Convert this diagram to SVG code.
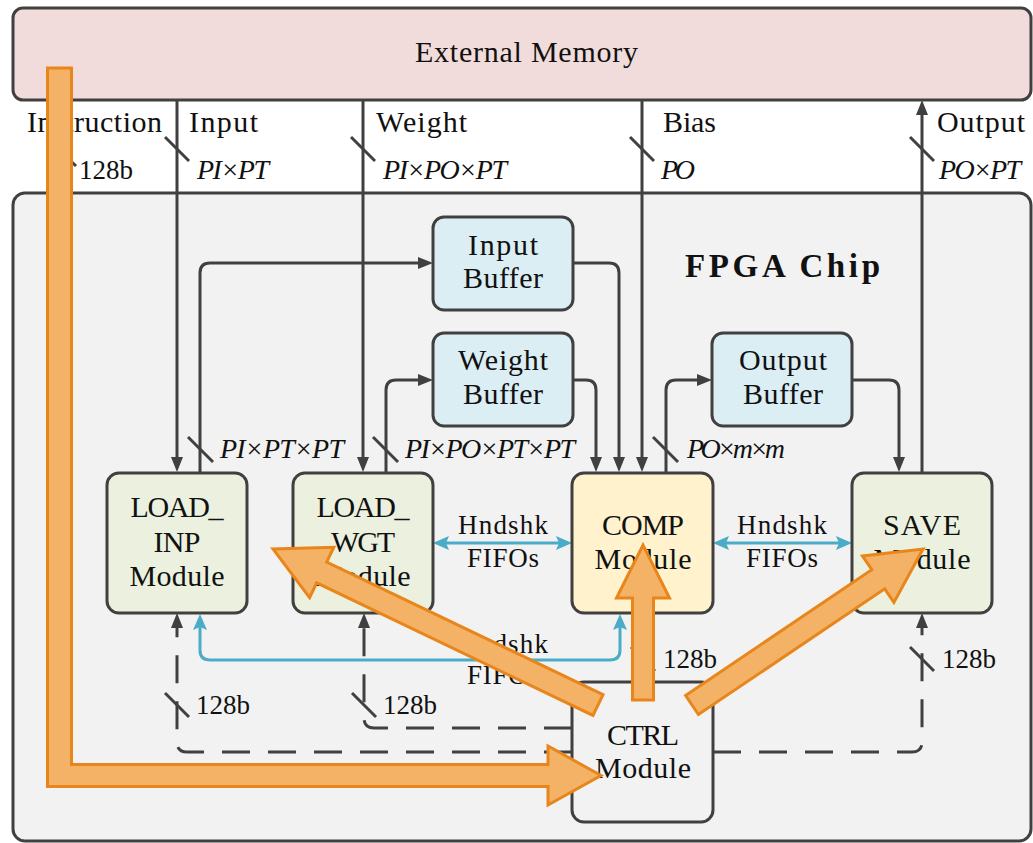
<svg xmlns="http://www.w3.org/2000/svg" width="1033" height="843" viewBox="0 0 1033 843">
  <style>
    .box { stroke: #404040; stroke-width: 3; }
    .mem { fill: #f2dcdb; }
    .chip { fill: #f2f2f2; }
    .buf { fill: #dbeef4; }
    .mod { fill: #ebf1de; }
    .comp { fill: #fff2cc; }
    .ctrl { fill: #f2f2f2; }
    text { font-family: "Liberation Serif", "DejaVu Serif", serif; fill: #111; }
    .lbl { font-size: 30px; }
    .nm { font-size: 30px; text-anchor: middle; }
    .hs { font-size: 27px; text-anchor: middle; }
    .mth { font-size: 28px; font-style: italic; }
    .bits { font-size: 27px; }
    .title { font-size: 33px; font-weight: bold; }
    .wire { fill: none; stroke: #404040; stroke-width: 3; }
    .dash { stroke-dasharray: 28 18; }
    .fifo { fill: none; stroke: #4aacc6; stroke-width: 3; }
    .tick { stroke: #404040; stroke-width: 3; }
    .flow { fill: #f3b266; stroke: #e8861c; stroke-width: 3; stroke-linejoin: miter; }
  </style>
  <defs>
    <marker id="head" viewBox="0 0 15 12" markerWidth="15" markerHeight="12" refX="9" refY="6" orient="auto" markerUnits="userSpaceOnUse">
      <path d="M0,0 L15,6 L0,12 z" fill="#404040"/>
    </marker>
    <marker id="headBlue" viewBox="0 0 16 14" markerWidth="16" markerHeight="14" refX="10" refY="7" orient="auto-start-reverse" markerUnits="userSpaceOnUse">
      <path d="M0,0 L16,7 L0,14 L3,7 z" fill="#4aacc6"/>
    </marker>
  </defs>

  <!-- FPGA chip outline -->
  <g id="fpga-chip">
    <rect class="box chip" x="13" y="193" width="1018" height="648" rx="12"/>
    <text class="title" x="685" y="277" textLength="195" lengthAdjust="spacing">FPGA Chip</text>
  </g>

  <!-- off-chip memory -->
  <g id="external-memory">
    <rect class="box mem" x="13" y="8" width="1018" height="92" rx="10"/>
    <text class="lbl" x="415" y="62" textLength="223" lengthAdjust="spacing">External Memory</text>
  </g>

  <!-- bus labels between memory and chip -->
  <g id="bus-labels">
    <text class="lbl" x="27" y="132" textLength="135" lengthAdjust="spacing">Instruction</text>
    <text class="lbl" x="189" y="132" textLength="69" lengthAdjust="spacing">Input</text>
    <text class="lbl" x="376" y="132" textLength="91" lengthAdjust="spacing">Weight</text>
    <text class="lbl" x="663" y="132" textLength="53" lengthAdjust="spacing">Bias</text>
    <text class="lbl" x="937" y="132" textLength="88" lengthAdjust="spacing">Output</text>
    <text class="bits" x="79" y="179" textLength="54" lengthAdjust="spacing">128b</text>
    <text class="mth" x="197" y="179" textLength="72" lengthAdjust="spacing">PI×PT</text>
    <text class="mth" x="383" y="179" textLength="124" lengthAdjust="spacing">PI×PO×PT</text>
    <text class="mth" x="661" y="179" textLength="34" lengthAdjust="spacing">PO</text>
    <text class="mth" x="939" y="179" textLength="82" lengthAdjust="spacing">PO×PT</text>
    <text class="mth" x="220" y="458" textLength="124" lengthAdjust="spacing">PI×PT×PT</text>
    <text class="mth" x="405" y="458" textLength="170" lengthAdjust="spacing">PI×PO×PT×PT</text>
    <text class="mth" x="687" y="458" textLength="98" lengthAdjust="spacing">PO×m×m</text>
    <text class="bits" x="196" y="714" textLength="54" lengthAdjust="spacing">128b</text>
    <text class="bits" x="383" y="714" textLength="54" lengthAdjust="spacing">128b</text>
    <text class="bits" x="663" y="668" textLength="54" lengthAdjust="spacing">128b</text>
    <text class="bits" x="942" y="668" textLength="54" lengthAdjust="spacing">128b</text>
  </g>

  <g id="connectors">
    <!-- data buses -->
    <path class="wire" d="M60,100 V775 H566" marker-end="url(#head)"/>
    <path class="wire" d="M177,100 V466" marker-end="url(#head)"/>
    <path class="wire" d="M363,100 V466" marker-end="url(#head)"/>
    <path class="wire" d="M642,100 V466" marker-end="url(#head)"/>
    <path class="wire" d="M922,473 V106" marker-end="url(#head)"/>
    <path class="wire" d="M200,473 V273 Q200,263 210,263 H427" marker-end="url(#head)"/>
    <path class="wire" d="M573,263 H609 Q619,263 619,273 V466" marker-end="url(#head)"/>
    <path class="wire" d="M386,473 V390 Q386,380 396,380 H427" marker-end="url(#head)"/>
    <path class="wire" d="M573,380 H586 Q596,380 596,390 V466" marker-end="url(#head)"/>
    <path class="wire" d="M666,473 V390 Q666,380 676,380 H706" marker-end="url(#head)"/>
    <path class="wire" d="M852,380 H889 Q899,380 899,390 V466" marker-end="url(#head)"/>
    <!-- instruction paths from the controller -->
    <path class="wire dash" d="M572,752 H187 Q177,752 177,742 V619" marker-end="url(#head)"/>
    <path class="wire dash" d="M572,728 H374 Q364,728 364,718 V619" marker-end="url(#head)"/>
    <path class="wire dash" d="M713,752 H912 Q922,752 922,742 V619" marker-end="url(#head)"/>
    <path class="wire dash" d="M643,682 V619" marker-end="url(#head)"/>
    <!-- handshake FIFOs -->
    <path class="fifo" d="M439,543 H566" marker-start="url(#headBlue)" marker-end="url(#headBlue)"/>
    <path class="fifo" d="M719,543 H846" marker-start="url(#headBlue)" marker-end="url(#headBlue)"/>
    <path class="fifo" d="M200,620 V650 Q200,660 210,660 H610 Q620,660 620,650 V620" marker-start="url(#headBlue)" marker-end="url(#headBlue)"/>
    <!-- bus-width ticks -->
    <line class="tick" x1="52" y1="143" x2="76" y2="166"/>
    <line class="tick" x1="165" y1="137" x2="189" y2="161"/>
    <line class="tick" x1="351" y1="137" x2="375" y2="161"/>
    <line class="tick" x1="630" y1="137" x2="654" y2="161"/>
    <line class="tick" x1="910" y1="137" x2="934" y2="161"/>
    <line class="tick" x1="188" y1="437" x2="213" y2="462"/>
    <line class="tick" x1="373" y1="437" x2="398" y2="462"/>
    <line class="tick" x1="653" y1="437" x2="678" y2="462"/>
    <line class="tick" x1="165" y1="693" x2="189" y2="717"/>
    <line class="tick" x1="352" y1="693" x2="376" y2="717"/>
    <line class="tick" x1="631" y1="647" x2="655" y2="671"/>
    <line class="tick" x1="910" y1="647" x2="934" y2="671"/>
  </g>

  <!-- FIFO labels -->
  <g id="fifo-labels">
    <text class="hs" x="503" y="534" textLength="90" lengthAdjust="spacing">Hndshk</text>
    <text class="hs" x="503" y="567" textLength="72" lengthAdjust="spacing">FIFOs</text>
    <text class="hs" x="782" y="534" textLength="90" lengthAdjust="spacing">Hndshk</text>
    <text class="hs" x="782" y="567" textLength="72" lengthAdjust="spacing">FIFOs</text>
    <text class="hs" x="503" y="653" textLength="90" lengthAdjust="spacing">Hndshk</text>
    <text class="hs" x="503" y="684" textLength="72" lengthAdjust="spacing">FIFOs</text>
  </g>

  <g id="input-buffer">
    <rect class="box buf" x="433" y="217" width="140" height="93" rx="11"/>
    <text class="nm" x="503" y="255" textLength="70" lengthAdjust="spacing">Input</text>
    <text class="nm" x="503" y="288" textLength="80" lengthAdjust="spacing">Buffer</text>
  </g>
  <g id="weight-buffer">
    <rect class="box buf" x="433" y="333" width="140" height="93" rx="11"/>
    <text class="nm" x="503" y="370" textLength="90" lengthAdjust="spacing">Weight</text>
    <text class="nm" x="503" y="404" textLength="80" lengthAdjust="spacing">Buffer</text>
  </g>
  <g id="output-buffer">
    <rect class="box buf" x="712" y="333" width="140" height="93" rx="11"/>
    <text class="nm" x="783" y="370" textLength="88" lengthAdjust="spacing">Output</text>
    <text class="nm" x="783" y="404" textLength="80" lengthAdjust="spacing">Buffer</text>
  </g>

  <g id="load-inp">
    <rect class="box mod" x="107" y="473" width="140" height="140" rx="12"/>
    <text class="nm" x="177" y="517" textLength="93" lengthAdjust="spacing">LOAD_</text>
    <text class="nm" x="177" y="552" textLength="47" lengthAdjust="spacing">INP</text>
    <text class="nm" x="177" y="586" textLength="95" lengthAdjust="spacing">Module</text>
  </g>
  <g id="load-wgt">
    <rect class="box mod" x="293" y="473" width="140" height="140" rx="12"/>
    <text class="nm" x="363" y="517" textLength="93" lengthAdjust="spacing">LOAD_</text>
    <text class="nm" x="363" y="552" textLength="64" lengthAdjust="spacing">WGT</text>
    <text class="nm" x="363" y="586" textLength="95" lengthAdjust="spacing">Module</text>
  </g>
  <g id="comp">
    <rect class="box comp" x="572" y="473" width="141" height="140" rx="12"/>
    <text class="nm" x="643" y="535" textLength="82" lengthAdjust="spacing">COMP</text>
    <text class="nm" x="643" y="569" textLength="97" lengthAdjust="spacing">Module</text>
  </g>
  <g id="save">
    <rect class="box mod" x="852" y="473" width="140" height="140" rx="12"/>
    <text class="nm" x="922" y="535" textLength="78" lengthAdjust="spacing">SAVE</text>
    <text class="nm" x="922" y="569" textLength="97" lengthAdjust="spacing">Module</text>
  </g>
  <g id="ctrl">
    <rect class="box ctrl" x="572" y="682" width="141" height="140" rx="12"/>
    <text class="nm" x="643" y="745" textLength="72" lengthAdjust="spacing">CTRL</text>
    <text class="nm" x="643" y="778" textLength="96" lengthAdjust="spacing">Module</text>
  </g>

  <!-- instruction flow overlay -->
  <g id="control-flow">
    <polygon class="flow" points="47.5,68 71.5,68 71.5,764.5 548,764.5 548,746 601,775.5 548,805 548,786.5 47.5,786.5"/>
    <polygon class="flow" points="603,694.6 326.7,562 333.8,547.2 273,549 309.6,597.6 316.7,582.8 593,715.4"/>
    <polygon class="flow" points="632.5,700 632.5,598 616.5,598 643,545 669.5,598 653.5,598 653.5,700"/>
    <polygon class="flow" points="685.6,695.5 871.8,569.7 862.5,556 923,549 893.9,602.4 884.7,588.8 698.4,714.5"/>
  </g>
</svg>
